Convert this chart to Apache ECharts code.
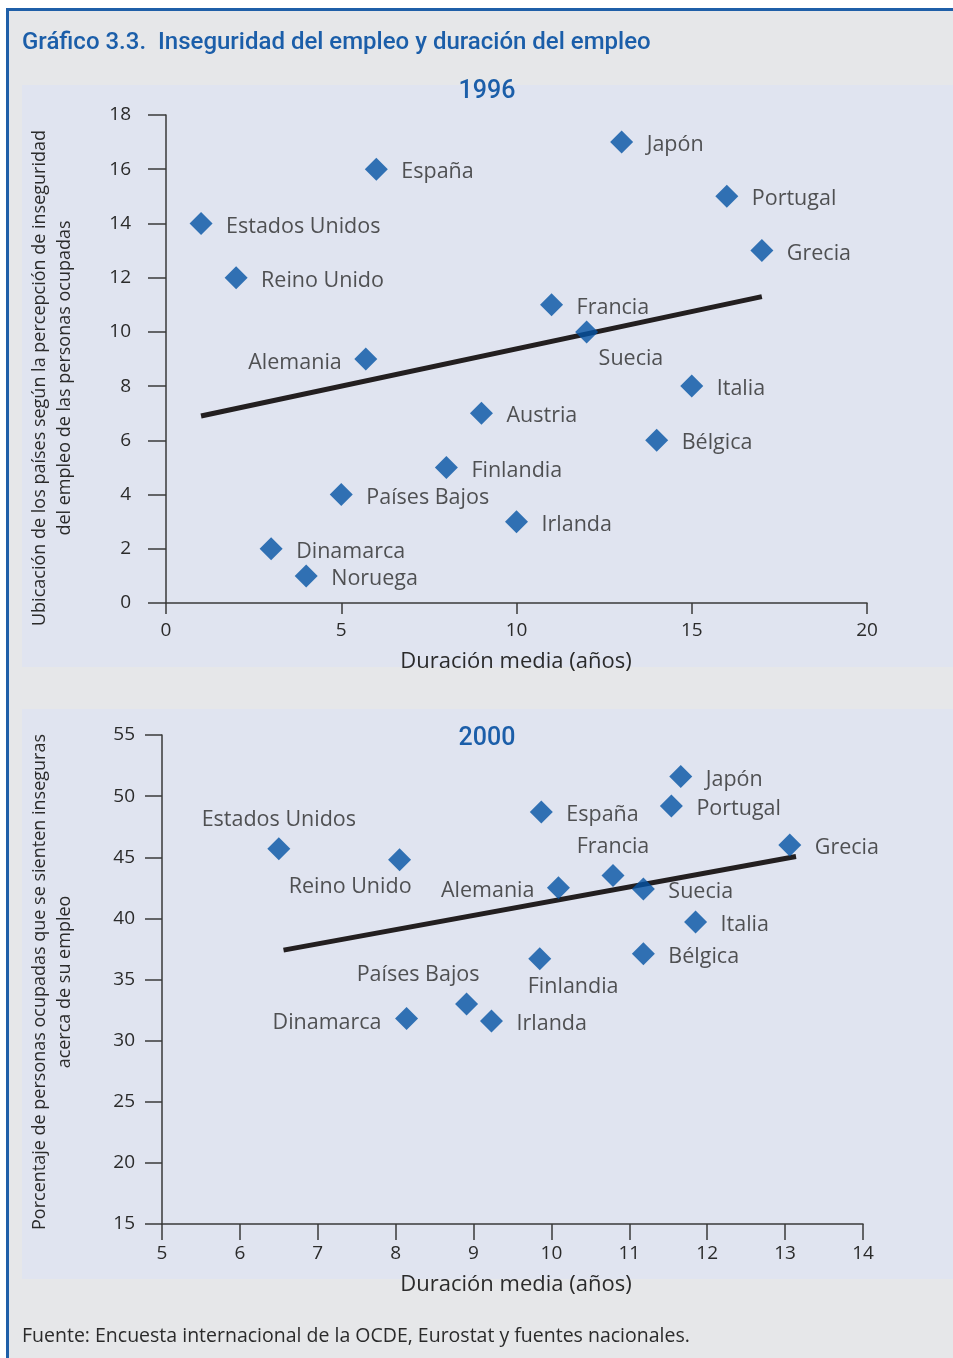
<!DOCTYPE html>
<html><head><meta charset="utf-8">
<script src="https://cdn.jsdelivr.net/npm/echarts@6/dist/echarts.min.js"></script>
<style>html,body{margin:0;padding:0;background:#fff}#c{width:953px;height:1358px}</style>
</head><body><div id="c"></div>
<script>
// ---------- DATA ----------
const countries1996 = ['Estados Unidos','España','Reino Unido','Japón','Portugal','Grecia','Francia','Suecia','Alemania','Italia','Austria','Bélgica','Finlandia','Países Bajos','Irlanda','Dinamarca','Noruega'];
const tenure1996 = [1, 6, 2, 13, 16, 17, 11, 12, 5.7, 15, 9, 14, 8, 5, 10, 3, 4];
const insecurityRank1996 = [14, 16, 12, 17, 15, 13, 11, 10, 9, 8, 7, 6, 5, 4, 3, 2, 1];
const trendX1996 = [1, 17];
const trendY1996 = [6.9, 11.3];
const xTicks1996 = [0, 5, 10, 15, 20];
const yTicks1996 = [0, 2, 4, 6, 8, 10, 12, 14, 16, 18];

const countries2000 = ['Estados Unidos','Reino Unido','Dinamarca','Países Bajos','Irlanda','Finlandia','Bélgica','Italia','Suecia','Alemania','Francia','España','Portugal','Japón','Grecia'];
const tenure2000 = [6.5, 8.05, 8.14, 8.91, 9.23, 9.85, 11.18, 11.85, 11.18, 10.09, 10.79, 9.87, 11.54, 11.66, 13.06];
const insecurePct2000 = [45.7, 44.8, 31.8, 33.0, 31.6, 36.7, 37.1, 39.7, 42.4, 42.5, 43.5, 48.7, 49.2, 51.6, 46.0];
const trendX2000 = [6.56, 13.14];
const trendY2000 = [37.4, 45.06];
const xTicks2000 = [5, 6, 7, 8, 9, 10, 11, 12, 13, 14];
const yTicks2000 = [15, 20, 25, 30, 35, 40, 45, 50, 55];

// ---------- TEXT ----------
const chartTitle = 'Gráfico 3.3.  Inseguridad del empleo y duración del empleo';
const year1 = '1996', year2 = '2000';
const xTitle = 'Duración media (años)';
const yTitle1 = 'Ubicación de los países según la percepción de inseguridad\ndel empleo de las personas ocupadas';
const yTitle2 = 'Porcentaje de personas ocupadas que se sienten inseguras\nacerca de su empleo';
const footer = 'Fuente: Encuesta internacional de la OCDE, Eurostat y fuentes nacionales.';

// ---------- STYLE (label placements: [dx, dy, align]) ----------
const defPlace = [25, 3, 'left'];
const place1996 = { 'Suecia': [12, 27, 'left'], 'Alemania': [-24, 4, 'right'] };
const place2000 = {
  'Estados Unidos': [0, -29, 'center'], 'Reino Unido': [12, 27, 'right'], 'Dinamarca': [-25, 4, 'right'],
  'Países Bajos': [13, -29, 'right'], 'Finlandia': [-12, 28, 'left'], 'Alemania': [-24, 3, 'right'],
  'Francia': [0, -29, 'center']
};
const BLUE = '#0452a4', TXT = '#2b2b2b', AX = '#3a3a3a';
const FONT = '"Open Sans", "Noto Sans", sans-serif';
const SYM = 23;

function points(names, xs, ys, place) {
  return names.map((n, i) => {
    const p = place[n] || defPlace;
    return { name: n, value: [xs[i], ys[i]],
      label: { position: [SYM / 2 + p[0], SYM / 2 + p[1]], align: p[2], verticalAlign: 'middle' } };
  });
}
function axisX(idx, ticks, tickLen, margin) {
  return { gridIndex: idx, type: 'value', min: ticks[0], max: ticks[ticks.length - 1], interval: ticks[1] - ticks[0],
    axisLine: { show: true, onZero: false, lineStyle: { color: AX, width: 1.5 } },
    axisTick: { show: true, length: tickLen, lineStyle: { color: AX, width: 1.5 } },
    axisLabel: { margin: margin, color: TXT, fontSize: 19, fontFamily: FONT },
    splitLine: { show: false } };
}
function axisY(idx, ticks, tickLen, margin, pad) {
  return { gridIndex: idx, type: 'value', min: ticks[0], max: ticks[ticks.length - 1], interval: ticks[1] - ticks[0],
    axisLine: { show: true, onZero: false, lineStyle: { color: AX, width: 1.5 } },
    axisTick: { show: true, length: tickLen, lineStyle: { color: AX, width: 1.5 } },
    axisLabel: { margin: margin, color: TXT, fontSize: 19, fontFamily: FONT, padding: [0, 0, pad, 0] },
    splitLine: { show: false } };
}
const labelStyle = { show: true, formatter: '{b}', color: TXT, fontSize: 21.5, fontFamily: FONT };

const chart = echarts.init(document.getElementById('c'), null, { renderer: 'canvas' });
chart.setOption({
  animation: false,
  backgroundColor: '#ffffff',
  graphic: [
    { type: 'rect', z: -20, shape: { x: 6, y: 8, width: 947, height: 1350 }, style: { fill: '#1f5fa8' }, silent: true },
    { type: 'rect', z: -19, shape: { x: 9, y: 11, width: 944, height: 1347 }, style: { fill: '#e6e7e9' }, silent: true },
    { type: 'rect', z: -18, shape: { x: 22, y: 85, width: 931, height: 582 }, style: { fill: '#e0e4f0' }, silent: true },
    { type: 'rect', z: -18, shape: { x: 22, y: 709, width: 931, height: 570 }, style: { fill: '#e0e4f0' }, silent: true },
    { type: 'text', x: 22, y: 43, style: { text: chartTitle, fill: '#1b5ea9', font: '500 24px Roboto, sans-serif', verticalAlign: 'middle' } },
    { type: 'text', x: 487, y: 92, style: { text: year1, fill: '#1b5ea9', font: '500 25px Roboto, sans-serif', align: 'center', verticalAlign: 'middle' } },
    { type: 'text', x: 487, y: 739, style: { text: year2, fill: '#1b5ea9', font: '500 25px Roboto, sans-serif', align: 'center', verticalAlign: 'middle' } },
    { type: 'text', x: 52, y: 378, rotation: Math.PI / 2, style: { text: yTitle1, fill: TXT, font: '18px ' + FONT, align: 'center', verticalAlign: 'middle', lineHeight: 25 } },
    { type: 'text', x: 52, y: 982, rotation: Math.PI / 2, style: { text: yTitle2, fill: TXT, font: '18px ' + FONT, align: 'center', verticalAlign: 'middle', lineHeight: 25 } },
    { type: 'text', x: 516, y: 662, style: { text: xTitle, fill: TXT, font: '22px ' + FONT, align: 'center', verticalAlign: 'middle' } },
    { type: 'text', x: 516, y: 1285, style: { text: xTitle, fill: TXT, font: '22px ' + FONT, align: 'center', verticalAlign: 'middle' } },
    { type: 'text', x: 22, y: 1336, style: { text: footer, fill: TXT, font: '19.5px ' + FONT, verticalAlign: 'middle' } }
  ],
  grid: [
    { left: 166, top: 115, width: 701, height: 488 },
    { left: 162, top: 735, width: 701, height: 489 }
  ],
  xAxis: [ axisX(0, xTicks1996, 11, 18), axisX(1, xTicks2000, 16, 20) ],
  yAxis: [ axisY(0, yTicks1996, 18, 35, 12), axisY(1, yTicks2000, 17, 27, 9) ],
  series: [
    { type: 'line', xAxisIndex: 0, yAxisIndex: 0, data: trendX1996.map((x, i) => [x, trendY1996[i]]), showSymbol: false, silent: true,
      lineStyle: { color: '#231f20', width: 5 }, z: 2 },
    { type: 'scatter', xAxisIndex: 0, yAxisIndex: 0, symbol: 'diamond', symbolSize: SYM, itemStyle: { color: BLUE }, silent: true,
      label: labelStyle, data: points(countries1996, tenure1996, insecurityRank1996, place1996), z: 3 },
    { type: 'line', xAxisIndex: 1, yAxisIndex: 1, data: trendX2000.map((x, i) => [x, trendY2000[i]]), showSymbol: false, silent: true,
      lineStyle: { color: '#231f20', width: 5 }, z: 2 },
    { type: 'scatter', xAxisIndex: 1, yAxisIndex: 1, symbol: 'diamond', symbolSize: SYM, itemStyle: { color: BLUE }, silent: true,
      label: labelStyle, data: points(countries2000, tenure2000, insecurePct2000, place2000), z: 3 }
  ]
});
</script></body></html>
